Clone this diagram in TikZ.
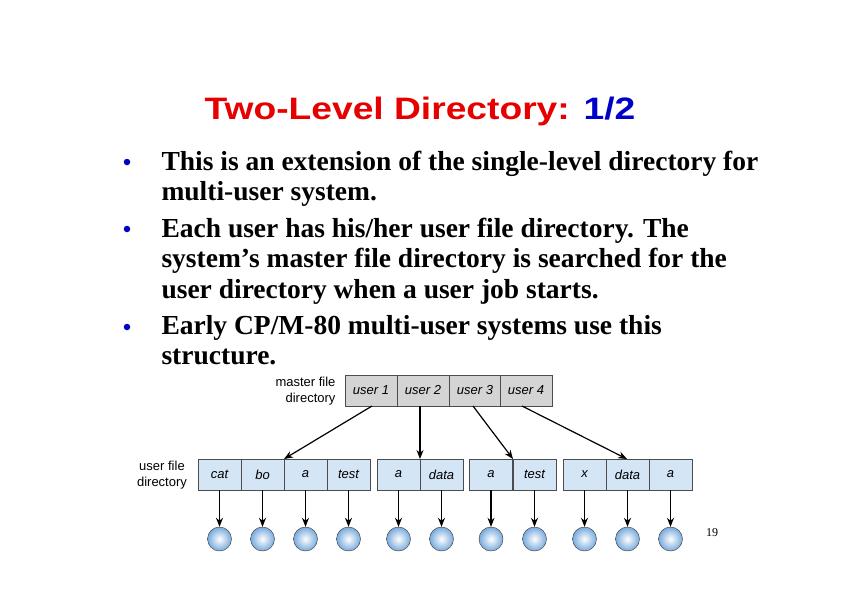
\documentclass[tikz,border=0pt]{standalone}
\usepackage{fontspec}
\setmainfont{Liberation Serif}
\newfontfamily\arial{Liberation Sans}
\usetikzlibrary{arrows.meta}
\definecolor{tred}{RGB}{230,0,0}
\definecolor{tblue}{RGB}{0,0,200}
\definecolor{mgray}{RGB}{212,212,212}
\definecolor{ublue}{RGB}{212,229,246}
\definecolor{cblue}{RGB}{120,170,220}
\tikzset{
  mcell/.style={draw=black!70,fill=mgray,minimum width=52pt,minimum height=31pt,inner sep=0pt,font=\arial\itshape\fontsize{13}{13}\selectfont},
  ucell/.style={draw=black!70,fill=ublue,minimum width=43pt,minimum height=31pt,inner sep=0pt,font=\arial\itshape\fontsize{13}{13}\selectfont},
  fil/.style={circle,draw=black!80,inner sep=0pt,minimum size=24pt,inner color=white,outer color=cblue},
  arr/.style={-{Stealth[length=9pt,width=7pt]},line width=1.2pt},
  lbl/.style={font=\arial\fontsize{13}{16}\selectfont,align=right},
  btxt/.style={anchor=base west,font=\bfseries\fontsize{27.5}{30}\selectfont},
  bul/.style={circle,fill=tblue,inner sep=0pt,minimum size=6.5pt}
}
\begin{document}
\begin{tikzpicture}[x=1pt,y=-1pt]
\useasboundingbox (0,0) rectangle (842,595);
\node[anchor=base,font=\arial\bfseries\fontsize{31}{31}\selectfont,xscale=1.2] (title) at (420,119) {\textcolor{tred}{Two-Level Directory:} \textcolor{tblue}{1/2}};
\node[bul] (b1) at (127,162) {};
\node[bul] (b2) at (127,229) {};
\node[bul] (b3) at (127,327) {};
\node[btxt] (t1) at (158,170) {This is an extension of the single-level directory for};
\node[btxt] (t2) at (158,200) {multi-user system.};
\node[btxt] (t3) at (158,237) {Each user has his/her user file directory. The};
\node[btxt] (t4) at (158,267) {system’s master file directory is searched for the};
\node[btxt] (t5) at (158,298) {user directory when a user job starts.};
\node[btxt] (t6) at (158,334) {Early CP/M-80 multi-user systems use this};
\node[btxt] (t7) at (158,364) {structure.};
% master
\node[mcell] (m1) at (371,390.5) {user 1};
\node[mcell] (m2) at (423,390.5) {user 2};
\node[mcell] (m3) at (475,390.5) {user 3};
\node[mcell] (m4) at (526,390.5) {user 4};
\node[lbl,anchor=east] (ml) at (339,391) {master file\\directory};
\node[lbl,anchor=center,align=center] (ul) at (162,475) {user file\\directory};
% user cells
\foreach \n/\x/\t in {u1/219.5/cat,u2/262.5/bo,u3/305.5/a,u4/348.5/test,u5/398.5/a,u6/441.5/data,u7/491/a,u8/534.5/test,u9/584.5/x,u10/627.5/data,u11/670.5/a}{
  \node[ucell] (\n) at (\x,474.5) {\t};
  \node[fil] (f\n) at (\x,539) {};
  \draw[arr] (\n.south) -- (f\n.north);
}
\coordinate (e1) at (284,459);
\coordinate (e2) at (420,459);
\coordinate (e3) at (513,459);
\coordinate (e4) at (627,459);
\draw[arr] (372,406) -- (e1);
\draw[arr] (m2.south -| e2) -- (e2);
\draw[arr] (473,406) -- (e3);
\draw[arr] (522,406) -- (e4);
\node[font=\fontsize{12}{12}\selectfont] (pg) at (712,533) {19};
\end{tikzpicture}
\end{document}
